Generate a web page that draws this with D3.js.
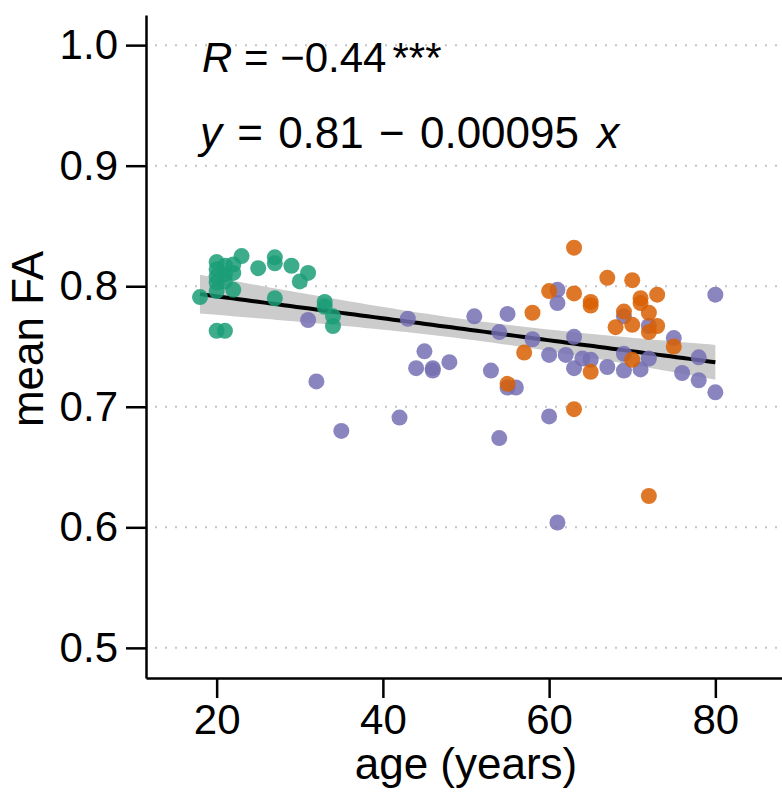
<!DOCTYPE html>
<html>
<head>
<meta charset="utf-8">
<script src="https://cdn.jsdelivr.net/npm/d3@7"></script>
<style>
  body { margin: 0; background: #fff; }
  svg { display: block; font-family: "Liberation Sans", Arial, sans-serif; }
</style>
</head>
<body>
<svg width="782" height="792"></svg>
<script>
// age (years), mean FA  -- three groups
var youngPts = [
  [18,0.791],[20,0.820],[20,0.814],[20,0.808],[20,0.803],[20,0.796],[20,0.763],
  [21,0.763],[21,0.817],[21,0.810],[21,0.804],[22,0.818],[22,0.811],[22,0.797],
  [23,0.825],[25,0.815],[27,0.824],[27,0.819],[27,0.790],[29,0.817],[30,0.804],
  [31,0.811],[33,0.787],[33,0.783],[34,0.775],[34,0.767]
];
var midPts = [
  [31,0.772],[32,0.721],[35,0.680],[42,0.691],[43,0.773],[44,0.732],[45,0.746],
  [46,0.732],[46,0.730],[48,0.737],[51,0.775],[53,0.730],[54,0.762],[54,0.674],
  [55,0.777],[55,0.716],[56,0.716],[58,0.756],[60,0.743],[60,0.692],[61,0.797],
  [61,0.786],[61,0.604],[62,0.743],[63,0.758],[63,0.732],[64,0.740],[65,0.739],
  [67,0.733],[69,0.775],[69,0.744],[69,0.730],[71,0.731],[72,0.767],[72,0.740],
  [75,0.757],[76,0.728],[78,0.741],[78,0.722],[80,0.793],[80,0.712]
];
var oldPts = [
  [55,0.719],[57,0.745],[58,0.778],[60,0.796],[63,0.832],[63,0.794],[63,0.698],
  [65,0.787],[65,0.784],[65,0.729],[67,0.807],[68,0.766],[69,0.779],[70,0.805],
  [70,0.768],[70,0.739],[71,0.790],[71,0.786],[72,0.778],[72,0.762],[72,0.626],
  [73,0.793],[73,0.767],[75,0.750]
];
var groupColors = ["#1B9E77", "#7570B3", "#D95F02"];

var xTicks = [20, 40, 60, 80];
var yTicks = [0.5, 0.6, 0.7, 0.8, 0.9, 1.0];

var svg = d3.select("svg");

// scales (limits 15-85 and 0.5-1.0 with 5% padding, like ggplot)
var x = d3.scaleLinear().domain([11.5, 88.5]).range([146, 786]);
var y = d3.scaleLinear().domain([0.475, 1.025]).range([678, 15]);

// dotted horizontal grid
svg.append("g")
  .selectAll("line")
  .data(yTicks)
  .join("line")
    .attr("x1", x.range()[0])
    .attr("x2", x.range()[1])
    .attr("y1", function(d) { return y(d); })
    .attr("y2", function(d) { return y(d); })
    .attr("stroke", "#c4c4c4")
    .attr("stroke-width", 2)
    .attr("stroke-dasharray", "2,8")
    .attr("stroke-dashoffset", -9);

// linear fit + 95% band, computed from all points
var all = youngPts.concat(midPts, oldPts);
var n = all.length;
var mx = d3.mean(all, function(d) { return d[0]; });
var my = d3.mean(all, function(d) { return d[1]; });
var sxx = d3.sum(all, function(d) { return (d[0] - mx) * (d[0] - mx); });
var sxy = d3.sum(all, function(d) { return (d[0] - mx) * (d[1] - my); });
var slope = sxy / sxx;
var icpt = my - slope * mx;
var sse = d3.sum(all, function(d) { var r = d[1] - (icpt + slope * d[0]); return r * r; });
var s = Math.sqrt(sse / (n - 2));
var tq = 1.985;
var xr = d3.extent(all, function(d) { return d[0]; });
var grid = d3.range(0, 81).map(function(i) {
  var a = xr[0] + (xr[1] - xr[0]) * i / 80;
  var fit = icpt + slope * a;
  var se = s * Math.sqrt(1 / n + (a - mx) * (a - mx) / sxx);
  return { a: a, fit: fit, lo: fit - tq * se, hi: fit + tq * se };
});

svg.append("path")
  .datum(grid)
  .attr("fill", "#cccccc")
  .attr("d", d3.area()
    .x(function(d) { return x(d.a); })
    .y0(function(d) { return y(d.lo); })
    .y1(function(d) { return y(d.hi); }));

svg.append("path")
  .datum(grid)
  .attr("fill", "none")
  .attr("stroke", "#000")
  .attr("stroke-width", 4)
  .attr("d", d3.line()
    .x(function(d) { return x(d.a); })
    .y(function(d) { return y(d.fit); }));

// points
[youngPts, midPts, oldPts].forEach(function(pts, i) {
  svg.append("g")
    .selectAll("circle")
    .data(pts)
    .join("circle")
      .attr("cx", function(d) { return x(d[0]); })
      .attr("cy", function(d) { return y(d[1]); })
      .attr("r", 8)
      .attr("fill", groupColors[i])
      .attr("fill-opacity", 0.85);
});

// axes
var gy = svg.append("g")
  .attr("transform", "translate(146,0)")
  .call(d3.axisLeft(y).tickValues(yTicks).tickFormat(d3.format(".1f"))
    .tickSize(20).tickSizeOuter(0).tickPadding(8));
var gx = svg.append("g")
  .attr("transform", "translate(0,678)")
  .call(d3.axisBottom(x).tickValues(xTicks)
    .tickSize(20).tickSizeOuter(0).tickPadding(6));

[gx, gy].forEach(function(g) {
  g.select(".domain").attr("stroke", "#000").attr("stroke-width", 2.5);
  g.selectAll(".tick line").attr("stroke", "#000").attr("stroke-width", 2.5);
  g.selectAll(".tick text")
    .attr("fill", "#000")
    .attr("font-size", 42)
    .attr("font-family", "Liberation Sans, Arial, sans-serif");
});

// axis titles
svg.append("text")
  .attr("x", (x.range()[0] + x.range()[1]) / 2)
  .attr("y", 779)
  .attr("text-anchor", "middle")
  .attr("font-size", 44)
  .text("age (years)");

svg.append("text")
  .attr("transform", "translate(43,339) rotate(-90)")
  .attr("text-anchor", "middle")
  .attr("font-size", 44)
  .text("mean FA");

// stats annotation
var t1 = svg.append("text").attr("x", 202).attr("y", 72).attr("font-size", 42);
t1.append("tspan").attr("font-style", "italic").text("R");
t1.append("tspan").text(" = \u22120.44");
t1.append("tspan").attr("dx", 6).text("***");

var t2 = svg.append("text").attr("x", 200).attr("y", 148).attr("font-size", 44);
t2.append("tspan").attr("font-style", "italic").text("y");
t2.append("tspan").attr("dx", 3).text(" =");
t2.append("tspan").attr("dx", 3).text(" 0.81");
t2.append("tspan").attr("dx", 3).text(" \u2212");
t2.append("tspan").attr("dx", 3).text(" 0.00095");
t2.append("tspan").attr("dx", 6).attr("font-style", "italic").text(" x");
</script>
</body>
</html>
